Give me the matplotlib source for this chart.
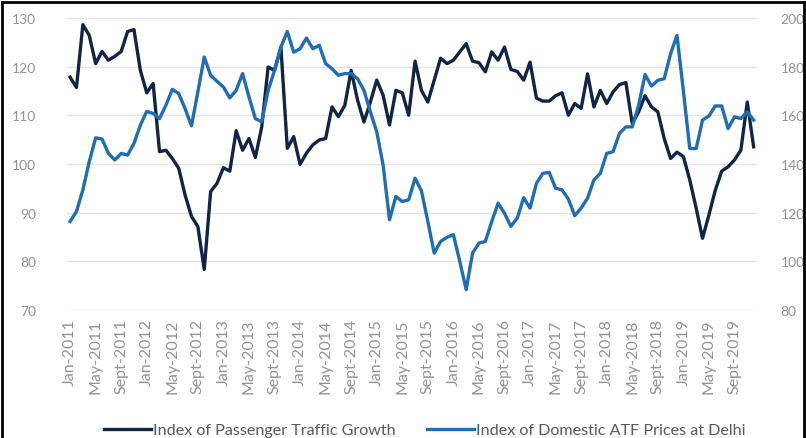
import matplotlib
matplotlib.use("Agg")
import matplotlib.pyplot as plt
from matplotlib.lines import Line2D

# monthly index values, Jan-2011 .. Dec-2019
passenger_traffic = [
    117.8, 115.7, 128.6, 126.4, 120.6, 123.1, 121.3, 122.1, 123.1, 127.2, 127.6, 119.2,
    114.6, 116.5, 102.5, 102.8, 101.1, 99.1, 93.6, 89.2, 87.1, 78.3, 94.3, 96.0,
    99.2, 98.5, 106.8, 102.8, 105.2, 101.3, 107.6, 119.9, 119.2, 124.0, 103.2, 105.6,
    99.9, 102.2, 103.9, 104.9, 105.2, 111.7, 109.7, 112.0, 119.2, 113.1, 108.6, 112.7,
    117.2, 114.1, 108.0, 115.1, 114.6, 110.0, 121.1, 115.1, 112.7, 117.2, 121.7, 120.6,
    121.3, 123.0, 124.7, 121.1, 120.8, 118.9, 123.0, 121.3, 124.0, 119.4, 119.0, 117.2,
    120.9, 113.5, 112.9, 112.9, 114.0, 114.6, 110.0, 112.4, 111.4, 118.5, 111.7, 115.1,
    112.4, 114.8, 116.3, 116.7, 108.3, 110.7, 114.0, 111.7, 110.7, 105.2, 101.1, 102.4,
    101.5, 96.7, 90.9, 84.7, 89.5, 94.6, 98.5, 99.4, 100.8, 102.8, 112.7, 103.5,
]
atf_prices = [
    116.3, 120.4, 129.3, 140.9, 150.7, 150.2, 144.3, 141.6, 144.3, 143.6, 148.4, 155.9,
    161.6, 160.7, 158.6, 164.1, 170.6, 168.9, 162.7, 155.6, 169.6, 183.9, 176.4, 173.9,
    171.6, 167.1, 170.2, 177.1, 167.5, 158.6, 157.3, 170.2, 178.4, 188.0, 194.4, 185.9,
    187.3, 191.7, 187.3, 188.7, 181.2, 179.1, 176.4, 177.1, 177.1, 175.0, 170.2, 161.4,
    153.2, 139.5, 117.0, 126.6, 124.5, 125.2, 134.1, 128.9, 116.3, 103.3, 108.1, 109.8,
    110.9, 99.9, 88.3, 103.3, 107.4, 108.1, 116.3, 123.8, 119.7, 114.3, 117.7, 126.1,
    121.8, 132.0, 136.1, 136.5, 130.0, 129.3, 125.5, 118.7, 121.8, 125.9, 133.4, 136.1,
    144.3, 145.0, 152.5, 155.2, 155.2, 164.1, 176.7, 172.0, 174.3, 175.0, 185.3, 192.8,
    170.0, 146.3, 146.3, 158.0, 159.7, 163.8, 163.8, 154.5, 159.3, 158.6, 161.4, 158.0,
]
month_names = ["Jan", "May", "Sept"]
years = list(range(2011, 2020))
tick_labels = [f"{m}-{y}" for y in years for m in month_names]

plt.rcParams["font.family"] = ["Lato", "DejaVu Sans"]
grey = "#949494"
dark = "#0f2447"
blue = "#1f6db4"

fig = plt.figure(figsize=(8.06, 4.39), dpi=100)
ax = fig.add_axes([0.083, 0.292, 0.856, 0.665])
ax2 = ax.twinx()

x = list(range(len(passenger_traffic)))
ax.plot(x, passenger_traffic, color=dark, lw=2.4, zorder=3,
        label="Index of Passenger Traffic Growth")
ax2.plot(x, atf_prices, color=blue, lw=2.4, zorder=3,
         label="Index of Domestic ATF Prices at Delhi")

ax.set_xlim(-0.5, len(x) - 0.5)
ax.set_ylim(70, 130)
ax.set_yticks(range(70, 131, 10))
ax2.set_ylim(80, 200)
ax2.set_yticks(range(80, 201, 20))

ax.set_xticks(x[::4])
ax.set_xticklabels(tick_labels, rotation=90)
ax.grid(axis="y", color="#e3e3e3", lw=1)
ax.set_axisbelow(True)

for a in (ax, ax2):
    for s in a.spines.values():
        s.set_visible(False)
    a.tick_params(length=0, labelsize=10, labelcolor=grey)
ax.tick_params(axis="y", pad=22)
ax2.tick_params(axis="y", pad=17)
ax.tick_params(axis="x", pad=6, labelsize=11.5)

h1, l1 = ax.get_legend_handles_labels()
h2, l2 = ax2.get_legend_handles_labels()
fig.legend(h1 + h2, l1 + l2, loc="center", bbox_to_anchor=(0.527, 0.018), ncol=2,
           frameon=False, fontsize=11.6, handlelength=2.9, handletextpad=0.1,
           columnspacing=2.0, labelcolor="#595959")

# outer frame
for xs, ys in [((0.003, 0.003), (0, 0.994)), ((0.003, 0.997), (0.994, 0.994)),
               ((0.997, 0.997), (0, 0.994))]:
    fig.add_artist(Line2D(xs, ys, color="black", lw=2, transform=fig.transFigure))

fig.savefig("out.png", dpi=100)
